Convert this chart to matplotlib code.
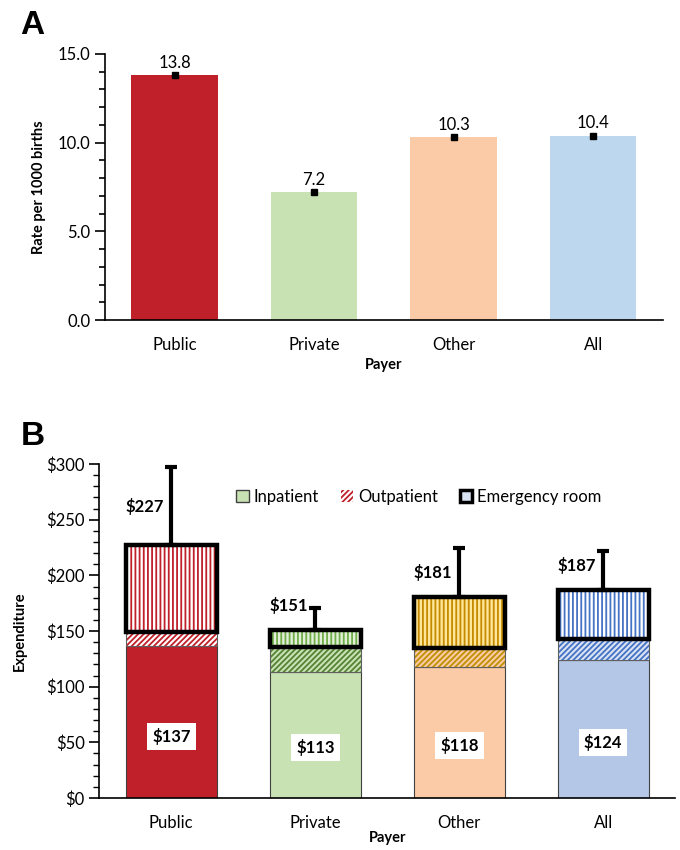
import matplotlib
matplotlib.use("Agg")
import matplotlib.pyplot as plt
from matplotlib.patches import Patch
from matplotlib.ticker import MultipleLocator, FuncFormatter

plt.rcParams["font.family"] = ["Lato", "DejaVu Sans"]
plt.rcParams["hatch.linewidth"] = 1.3

# Data
payers = ["Public", "Private", "Other", "All"]
rates = [13.8, 7.2, 10.3, 10.4]

inpatient = [137, 113, 118, 124]
outpatient = [12, 23, 17, 19]
emergency = [78, 15, 46, 44]
totals = [227, 151, 181, 187]
total_err = [70, 20, 44, 35]

# Colours
rate_colors = ["#C0202A", "#C9E2B3", "#FBCBA7", "#BDD7EE"]
in_colors = ["#C0202A", "#C9E2B3", "#FBCBA7", "#B4C7E7"]
out_bg = ["#FFFFFF", "#C9E2B3", "#FBCBA7", "#DAE3F3"]
out_hatch = ["#C0202A", "#548235", "#BF9000", "#4472C4"]
er_bg = ["#FFFFFF", "#E2F0D9", "#FFE699", "#FFFFFF"]
er_hatch = ["#C0202A", "#70AD47", "#C58B00", "#4472C4"]

fs = 12

fig = plt.figure(figsize=(6.8, 8.5), dpi=100)

# ---------------- Panel A ----------------
axA = fig.add_axes([0.154, 0.6235, 0.821, 0.313])
x = range(len(payers))
axA.bar(x, rates, width=0.62, color=rate_colors, zorder=2)
axA.plot(x, rates, "s", color="black", ms=4, zorder=3)
for xi, r in zip(x, rates):
    axA.text(xi, r + 0.25, f"{r:.1f}", ha="center", va="bottom", fontsize=fs)
axA.set_xlim(-0.5, 3.5)
axA.set_ylim(0, 15)
axA.yaxis.set_major_locator(MultipleLocator(5))
axA.yaxis.set_minor_locator(MultipleLocator(1))
axA.yaxis.set_major_formatter(FuncFormatter(lambda v, p: f"{v:.1f}"))
axA.set_xticks(list(x))
axA.set_xticklabels(payers, fontsize=fs)
axA.tick_params(axis="x", length=0, pad=12)
axA.tick_params(axis="y", which="major", length=7, width=1.2, labelsize=fs)
axA.tick_params(axis="y", which="minor", length=4, width=1.2)
axA.set_ylabel("Rate per 1000 births", fontsize=10.5, fontweight="bold", labelpad=8)
axA.set_xlabel("Payer", fontsize=10.5, fontweight="bold", labelpad=4)
for s in ["top", "right"]:
    axA.spines[s].set_visible(False)
axA.spines["left"].set_linewidth(1.2)
axA.spines["bottom"].set_linewidth(1.2)
fig.text(0.03, 0.988, "A", fontsize=24, fontweight="bold", va="top", family="Liberation Sans")

# ---------------- Panel B ----------------
axB = fig.add_axes([0.146, 0.0612, 0.847, 0.3928])
w = 0.63
bottom_out = inpatient
bottom_er = [a + b for a, b in zip(inpatient, outpatient)]

axB.bar(x, inpatient, width=w, color=in_colors, edgecolor="#404040", linewidth=0.8, zorder=2)
for i in x:
    axB.bar(i, outpatient[i], bottom=bottom_out[i], width=w, color=out_bg[i],
            edgecolor=out_hatch[i], hatch="//////", linewidth=0, zorder=2)
    axB.bar(i, outpatient[i], bottom=bottom_out[i], width=w, fill=False,
            edgecolor="#606060", linewidth=0.8, zorder=2)
    axB.bar(i, emergency[i], bottom=bottom_er[i], width=w, color=er_bg[i],
            edgecolor=er_hatch[i], hatch="||||", linewidth=0, zorder=2)
    axB.bar(i, emergency[i], bottom=bottom_er[i], width=w, fill=False,
            edgecolor="black", linewidth=3.2, zorder=3)

axB.errorbar(list(x), totals, yerr=[[0] * 4, total_err], fmt="none", ecolor="black",
             elinewidth=3, capsize=4, capthick=3, zorder=4)

for i in x:
    top = totals[i] + total_err[i]
    ly = max((totals[i] + top) / 2, totals[i] + 22)
    axB.text(i - 0.05, ly, f"\\${totals[i]}", ha="right", va="center",
             fontsize=fs, fontweight="bold")
    axB.text(i, inpatient[i] * 0.4, f"\\${inpatient[i]}", ha="center", va="center",
             fontsize=fs, fontweight="bold",
             bbox=dict(boxstyle="square,pad=0.3", fc="white", ec="none"), zorder=5)

axB.set_xlim(-0.5, 3.5)
axB.set_ylim(0, 300)
axB.yaxis.set_major_locator(MultipleLocator(50))
axB.yaxis.set_minor_locator(MultipleLocator(10))
axB.yaxis.set_major_formatter(FuncFormatter(lambda v, p: f"\\${v:.0f}"))
axB.set_xticks(list(x))
axB.set_xticklabels(payers, fontsize=fs)
axB.tick_params(axis="x", length=0, pad=12)
axB.tick_params(axis="y", which="major", length=7, width=1.2, labelsize=fs)
axB.tick_params(axis="y", which="minor", length=4, width=1.0)
axB.set_ylabel("Expenditure", fontsize=10.5, fontweight="bold", labelpad=14)
axB.set_xlabel("Payer", fontsize=10.5, fontweight="bold", labelpad=0)
for s in ["top", "right"]:
    axB.spines[s].set_visible(False)
axB.spines["left"].set_linewidth(1.2)
axB.spines["bottom"].set_linewidth(1.2)

handles = [
    Patch(facecolor="#C9E2B3", edgecolor="#404040", linewidth=1.0),
    Patch(facecolor="white", edgecolor="#C0202A", hatch="//////", linewidth=0),
    Patch(facecolor="#DAE3F3", edgecolor="black", linewidth=2.5),
]
axB.legend(handles, ["Inpatient", "Outpatient", "Emergency room"], loc="upper center",
           bbox_to_anchor=(0.555, 0.97), ncol=3, frameon=False, fontsize=fs,
           handlelength=0.75, handleheight=0.75, handletextpad=0.3, columnspacing=1.3)

fig.text(0.03, 0.505, "B", fontsize=24, fontweight="bold", va="top", family="Liberation Sans")

fig.savefig("out.png", dpi=100)
